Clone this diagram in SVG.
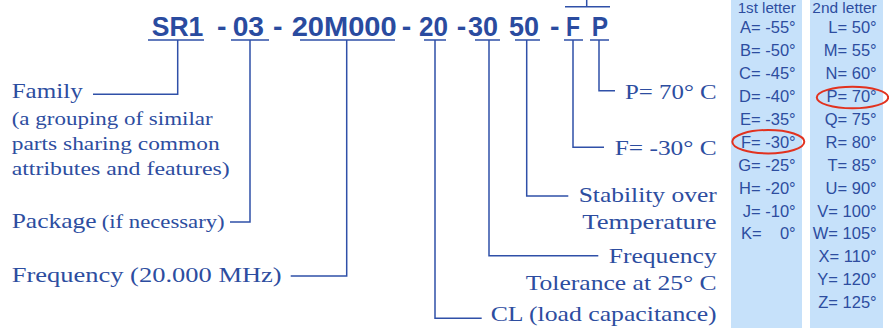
<svg xmlns="http://www.w3.org/2000/svg" width="889" height="328" viewBox="0 0 889 328">
<style>
.code{font-family:"Liberation Sans",Arial,sans-serif;font-weight:bold;font-size:28.5px;fill:#2A4B9F}
.lbl{font-family:"Liberation Serif","DejaVu Serif",serif;font-size:22px;fill:#2D4DA0}
.sub{font-family:"Liberation Serif","DejaVu Serif",serif;font-size:19.5px;fill:#2D4DA0}
.r{text-anchor:end}
.tab{font-family:"Liberation Sans",Arial,sans-serif;font-size:16.5px;fill:#2D4DA0;text-anchor:end;white-space:pre}
.hdr{font-size:15px}
.ln{fill:none;stroke:#2F50A8;stroke-width:1.5}
.panel{fill:#C6E1FA}
.oval{fill:none;stroke:#E2321F;stroke-width:2}
</style>
<rect width="889" height="328" fill="#FFFFFF"/>

<g id="code">
<text class="code" x="151.7" y="36" textLength="51.6" lengthAdjust="spacingAndGlyphs">SR1</text>
<text class="code" x="217" y="36">-</text>
<text class="code" x="232.7" y="36" textLength="31.3" lengthAdjust="spacingAndGlyphs">03</text>
<text class="code" x="273" y="36">-</text>
<text class="code" x="291.7" y="36" textLength="105" lengthAdjust="spacingAndGlyphs">20M000</text>
<text class="code" x="401.7" y="36">-</text>
<text class="code" x="419" y="36" textLength="29" lengthAdjust="spacingAndGlyphs">20</text>
<text class="code" x="456.7" y="36">-</text>
<text class="code" x="468" y="36" textLength="30" lengthAdjust="spacingAndGlyphs">30</text>
<text class="code" x="509" y="36" textLength="30" lengthAdjust="spacingAndGlyphs">50</text>
<text class="code" x="550" y="36">-</text>
<text class="code" x="566" y="36" textLength="14" lengthAdjust="spacingAndGlyphs">F</text>
<text class="code" x="591.7" y="36" textLength="16.3" lengthAdjust="spacingAndGlyphs">P</text>
</g>

<g id="connectors">
<path class="ln" d="M148 40H204M231 40H269M300 40H395M424 40H446M475 40H500M515 40H540M564 40H583M590 40H609"/>
<path class="ln" d="M565 6.7H610M586.7 0V6.7"/>
<path class="ln" d="M177.7 40V94.3H93"/>
<path class="ln" d="M250 40V222H230"/>
<path class="ln" d="M346.7 40V276H290.7"/>
<path class="ln" d="M435 40V318.3H481.7"/>
<path class="ln" d="M489 40V255.7H598.3"/>
<path class="ln" d="M526.7 40V196H568.3"/>
<path class="ln" d="M573 40V147.3H604"/>
<path class="ln" d="M599 40V90.7H615"/>
</g>

<g id="family">
<text class="lbl" x="11.7" y="98.3" textLength="71" lengthAdjust="spacingAndGlyphs">Family</text>
<text class="sub" x="11.7" y="125" textLength="201" lengthAdjust="spacingAndGlyphs">(a grouping of similar</text>
<text class="sub" x="11.7" y="150" textLength="208" lengthAdjust="spacingAndGlyphs">parts sharing common</text>
<text class="sub" x="11.7" y="175" textLength="218" lengthAdjust="spacingAndGlyphs">attributes and features)</text>
</g>
<g id="package">
<text class="lbl" x="11.7" y="228.3" textLength="85" lengthAdjust="spacingAndGlyphs">Package</text>
<text class="sub" x="101.7" y="228.3" textLength="123" lengthAdjust="spacingAndGlyphs">(if necessary)</text>
</g>
<g id="frequency">
<text class="lbl" x="11.7" y="281.7" textLength="270" lengthAdjust="spacingAndGlyphs">Frequency (20.000 MHz)</text>
</g>
<g id="p70">
<text class="lbl r" x="716.7" y="99" textLength="91.7" lengthAdjust="spacingAndGlyphs">P= 70° C</text>
</g>
<g id="f30">
<text class="lbl r" x="716.7" y="155" textLength="102" lengthAdjust="spacingAndGlyphs">F= -30° C</text>
</g>
<g id="stability">
<text class="lbl r" x="716.7" y="201.7" textLength="138" lengthAdjust="spacingAndGlyphs">Stability over</text>
<text class="lbl r" x="716.7" y="229.3" textLength="134.5" lengthAdjust="spacingAndGlyphs">Temperature</text>
</g>
<g id="tolerance">
<text class="lbl r" x="716.7" y="262.7" textLength="108" lengthAdjust="spacingAndGlyphs">Frequency</text>
<text class="lbl r" x="716.7" y="290" textLength="191" lengthAdjust="spacingAndGlyphs">Tolerance at 25° C</text>
</g>
<g id="cl">
<text class="lbl r" x="716.7" y="320.7" textLength="226" lengthAdjust="spacingAndGlyphs">CL (load capacitance)</text>
</g>

<g id="table1">
<rect class="panel" x="731" y="0" width="71" height="328"/>
<text class="tab hdr" x="795.7" y="12.5" textLength="58" lengthAdjust="spacingAndGlyphs">1st letter</text>
<text class="tab" x="795.7" y="33.3">A= -55°</text>
<text class="tab" x="795.7" y="56.2">B= -50°</text>
<text class="tab" x="795.7" y="79.1">C= -45°</text>
<text class="tab" x="795.7" y="102">D= -40°</text>
<text class="tab" x="795.7" y="124.9">E= -35°</text>
<text class="tab" x="795.7" y="147.8">F= -30°</text>
<text class="tab" x="795.7" y="170.7">G= -25°</text>
<text class="tab" x="795.7" y="193.6">H= -20°</text>
<text class="tab" x="795.7" y="216.5">J= -10°</text>
<text class="tab" x="795.7" y="239.4">K=    0°</text>
<ellipse class="oval" cx="768.3" cy="141.7" rx="36" ry="11.7"/>
</g>
<g id="table2">
<rect class="panel" x="810" y="0" width="73" height="328"/>
<text class="tab hdr" x="876.7" y="12.5" textLength="64.4" lengthAdjust="spacingAndGlyphs">2nd letter</text>
<text class="tab" x="876.7" y="33.3">L= 50°</text>
<text class="tab" x="876.7" y="56.2">M= 55°</text>
<text class="tab" x="876.7" y="79.1">N= 60°</text>
<text class="tab" x="876.7" y="102">P= 70°</text>
<text class="tab" x="876.7" y="124.9">Q= 75°</text>
<text class="tab" x="876.7" y="147.8">R= 80°</text>
<text class="tab" x="876.7" y="170.7">T= 85°</text>
<text class="tab" x="876.7" y="193.6">U= 90°</text>
<text class="tab" x="876.7" y="216.5">V= 100°</text>
<text class="tab" x="876.7" y="239.4">W= 105°</text>
<text class="tab" x="876.7" y="262.3">X= 110°</text>
<text class="tab" x="876.7" y="285.2">Y= 120°</text>
<text class="tab" x="876.7" y="308.1">Z= 125°</text>
<ellipse class="oval" cx="852.5" cy="97.5" rx="35.7" ry="10.8"/>
</g>
</svg>
